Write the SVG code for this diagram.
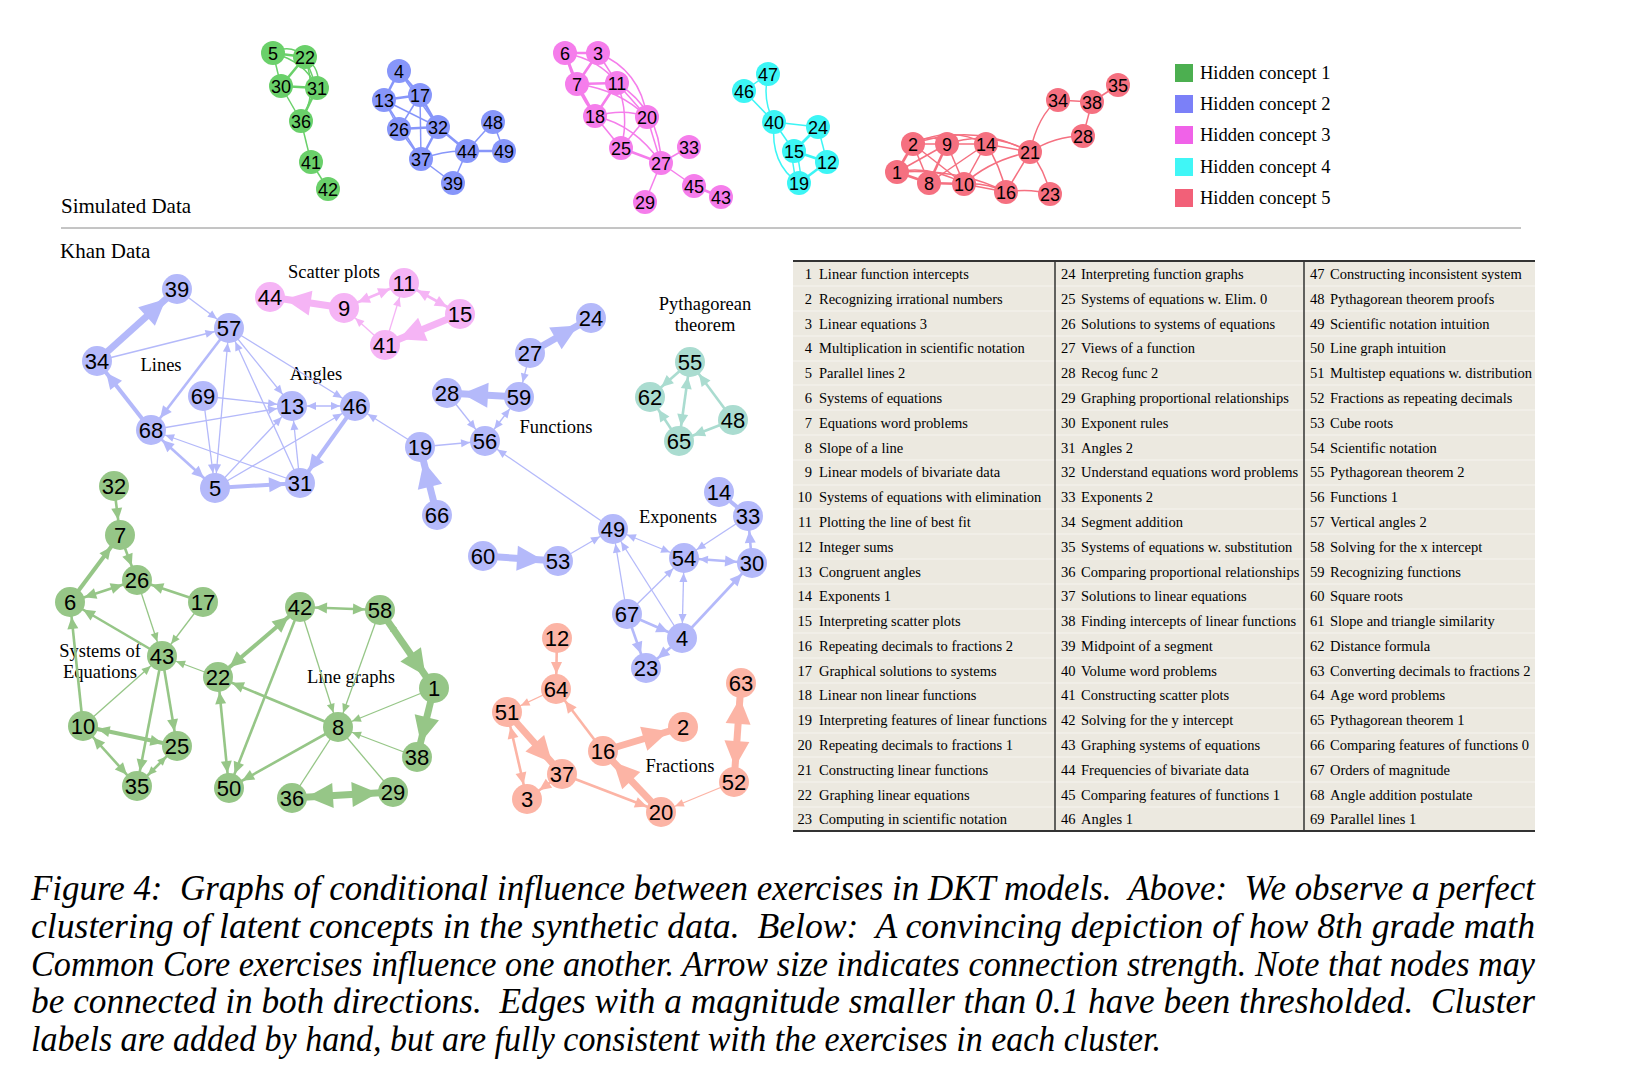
<svg xmlns="http://www.w3.org/2000/svg" width="1626" height="1081" viewBox="0 0 1626 1081">
<style>
.kb{fill:#b4b9fa}.kp{fill:#f5b4f5}.kt{fill:#aadcd0}.kg{fill:#96c687}.ks{fill:#fcb4a5}
.sg{fill:#6ad06a}.sb{fill:#8796fa}.sm{fill:#f57deb}.sc{fill:#3cf5f5}.sr{fill:#f57080}
.kn text{font-family:"Liberation Sans",Arial,sans-serif;font-size:22px;text-anchor:middle;fill:#000}
.sn text{font-family:"Liberation Sans",Arial,sans-serif;font-size:18px;text-anchor:middle;fill:#000}
.eb{stroke:#b4b9fa;fill:none}.ep{stroke:#f5b4f5;fill:none}.et{stroke:#aadcd0;fill:none}.eg{stroke:#96c687;fill:none}.es{stroke:#fcb4a5;fill:none}
.w1{stroke-width:1.3}.w2{stroke-width:2.6}.w3{stroke-width:4}.w4{stroke-width:7}
.xg{stroke:#6ad06a}.xb{stroke:#8796fa}.xm{stroke:#f57deb}.xc{stroke:#3cf5f5}.xr{stroke:#f57080}
.sim path,.sim line{fill:none;stroke-width:1.5}
.sim .t{stroke-width:2.6}
.lbl{font-family:"Liberation Serif","Times New Roman",serif;font-size:18.5px;fill:#000}
.ttl{font-family:"Liberation Serif","Times New Roman",serif;font-size:21px;fill:#000}
.tb{font-family:"Liberation Serif","Times New Roman",serif;font-size:14.5px;fill:#000}
.cap{font-family:"Liberation Serif","Times New Roman",serif;font-style:italic;font-size:35px;fill:#000}
</style>
<defs>
<marker id="mb1" markerUnits="userSpaceOnUse" orient="auto-start-reverse" overflow="visible" refX="24" refY="0" markerWidth="1" markerHeight="1"><path d="M0,-4L9,0L0,4z" fill="#b4b9fa"/></marker>
<marker id="mb2" markerUnits="userSpaceOnUse" orient="auto-start-reverse" overflow="visible" refX="27" refY="0" markerWidth="1" markerHeight="1"><path d="M0,-5.5L12,0L0,5.5z" fill="#b4b9fa"/></marker>
<marker id="mb3" markerUnits="userSpaceOnUse" orient="auto-start-reverse" overflow="visible" refX="31" refY="0" markerWidth="1" markerHeight="1"><path d="M0,-7.5L16,0L0,7.5z" fill="#b4b9fa"/></marker>
<marker id="mb4" markerUnits="userSpaceOnUse" orient="auto-start-reverse" overflow="visible" refX="41" refY="0" markerWidth="1" markerHeight="1"><path d="M0,-12.5L26,0L0,12.5z" fill="#b4b9fa"/></marker>
<marker id="mp1" markerUnits="userSpaceOnUse" orient="auto-start-reverse" overflow="visible" refX="24" refY="0" markerWidth="1" markerHeight="1"><path d="M0,-4L9,0L0,4z" fill="#f5b4f5"/></marker>
<marker id="mp2" markerUnits="userSpaceOnUse" orient="auto-start-reverse" overflow="visible" refX="27" refY="0" markerWidth="1" markerHeight="1"><path d="M0,-5.5L12,0L0,5.5z" fill="#f5b4f5"/></marker>
<marker id="mp4" markerUnits="userSpaceOnUse" orient="auto-start-reverse" overflow="visible" refX="41" refY="0" markerWidth="1" markerHeight="1"><path d="M0,-12.5L26,0L0,12.5z" fill="#f5b4f5"/></marker>
<marker id="mt2" markerUnits="userSpaceOnUse" orient="auto-start-reverse" overflow="visible" refX="27" refY="0" markerWidth="1" markerHeight="1"><path d="M0,-5.5L12,0L0,5.5z" fill="#aadcd0"/></marker>
<marker id="mg1" markerUnits="userSpaceOnUse" orient="auto-start-reverse" overflow="visible" refX="24" refY="0" markerWidth="1" markerHeight="1"><path d="M0,-4L9,0L0,4z" fill="#96c687"/></marker>
<marker id="mg2" markerUnits="userSpaceOnUse" orient="auto-start-reverse" overflow="visible" refX="27" refY="0" markerWidth="1" markerHeight="1"><path d="M0,-5.5L12,0L0,5.5z" fill="#96c687"/></marker>
<marker id="mg3" markerUnits="userSpaceOnUse" orient="auto-start-reverse" overflow="visible" refX="31" refY="0" markerWidth="1" markerHeight="1"><path d="M0,-7.5L16,0L0,7.5z" fill="#96c687"/></marker>
<marker id="mg4" markerUnits="userSpaceOnUse" orient="auto-start-reverse" overflow="visible" refX="41" refY="0" markerWidth="1" markerHeight="1"><path d="M0,-12.5L26,0L0,12.5z" fill="#96c687"/></marker>
<marker id="ms1" markerUnits="userSpaceOnUse" orient="auto-start-reverse" overflow="visible" refX="24" refY="0" markerWidth="1" markerHeight="1"><path d="M0,-4L9,0L0,4z" fill="#fcb4a5"/></marker>
<marker id="ms2" markerUnits="userSpaceOnUse" orient="auto-start-reverse" overflow="visible" refX="27" refY="0" markerWidth="1" markerHeight="1"><path d="M0,-5.5L12,0L0,5.5z" fill="#fcb4a5"/></marker>
<marker id="ms4" markerUnits="userSpaceOnUse" orient="auto-start-reverse" overflow="visible" refX="41" refY="0" markerWidth="1" markerHeight="1"><path d="M0,-12.5L26,0L0,12.5z" fill="#fcb4a5"/></marker>
</defs>
<rect width="1626" height="1081" fill="#fff"/>

<!-- Simulated data edges -->
<g id="sim-edges" class="sim">
<g class="xg">
<line x1="273" y1="53" x2="305" y2="57" class="t"/><path d="M273,53 Q290,43 305,57"/>
<line x1="273" y1="53" x2="281" y2="86"/><path d="M273,53 Q306,62 317,88"/>
<line x1="305" y1="57" x2="281" y2="86" class="t"/><line x1="305" y1="57" x2="317" y2="88"/><path d="M305,57 Q322,70 317,88"/>
<line x1="281" y1="86" x2="317" y2="88" class="t"/><line x1="281" y1="86" x2="301" y2="121"/>
<line x1="317" y1="88" x2="301" y2="121" class="t"/><path d="M305,57 Q318,95 301,121"/>
<line x1="301" y1="121" x2="311" y2="162"/><line x1="311" y1="162" x2="328" y2="189"/>
</g>
<g class="xb">
<line x1="399" y1="71" x2="384" y2="100" class="t"/><line x1="399" y1="71" x2="420" y2="95" class="t"/><line x1="399" y1="71" x2="438" y2="127"/>
<line x1="384" y1="100" x2="420" y2="95" class="t"/><line x1="384" y1="100" x2="399" y2="129"/><line x1="384" y1="100" x2="438" y2="127"/><line x1="384" y1="100" x2="421" y2="159"/>
<line x1="420" y1="95" x2="399" y2="129"/><line x1="420" y1="95" x2="438" y2="127" class="t"/><line x1="420" y1="95" x2="421" y2="159"/>
<line x1="399" y1="129" x2="438" y2="127" class="t"/><line x1="399" y1="129" x2="421" y2="159"/><line x1="438" y1="127" x2="421" y2="159" class="t"/>
<line x1="438" y1="127" x2="467" y2="151" class="t"/><path d="M421,159 Q445,150 467,151"/><line x1="421" y1="159" x2="453" y2="183"/><line x1="453" y1="183" x2="467" y2="151"/>
<line x1="467" y1="151" x2="493" y2="122"/><line x1="467" y1="151" x2="504" y2="151" class="t"/><line x1="493" y1="122" x2="504" y2="151"/>
</g>
<g class="xm">
<line x1="565" y1="53" x2="598" y2="53" class="t"/><line x1="565" y1="53" x2="577" y2="84" class="t"/><line x1="598" y1="53" x2="577" y2="84" class="t"/>
<line x1="598" y1="53" x2="617" y2="83"/><path d="M565,53 Q600,60 617,83"/><line x1="577" y1="84" x2="617" y2="83" class="t"/>
<line x1="577" y1="84" x2="595" y2="116" class="t"/><path d="M565,53 Q575,90 595,116"/><line x1="617" y1="83" x2="595" y2="116" class="t"/>
<path d="M598,53 Q640,70 647,117"/><line x1="617" y1="83" x2="647" y2="117"/><path d="M595,116 Q625,108 647,117"/><path d="M577,84 Q620,90 647,117"/>
<line x1="595" y1="116" x2="621" y2="148"/><path d="M617,83 Q630,115 621,148"/><path d="M595,116 Q635,125 661,163"/><path d="M617,83 Q660,110 661,163"/>
<line x1="647" y1="117" x2="621" y2="148"/><line x1="647" y1="117" x2="661" y2="163"/><line x1="621" y1="148" x2="661" y2="163" class="t"/>
<line x1="661" y1="163" x2="689" y2="147"/><line x1="661" y1="163" x2="694" y2="186"/><line x1="661" y1="163" x2="645" y2="202"/><line x1="694" y1="186" x2="721" y2="197" class="t"/>
</g>
<g class="xc">
<line x1="768" y1="74" x2="744" y2="91"/><path d="M768,74 Q762,100 774,122"/><line x1="744" y1="91" x2="774" y2="122"/>
<line x1="774" y1="122" x2="818" y2="127"/><line x1="774" y1="122" x2="794" y2="151"/><path d="M774,122 Q770,165 799,183"/>
<line x1="794" y1="151" x2="818" y2="127" class="t"/><line x1="794" y1="151" x2="827" y2="162" class="t"/><line x1="791" y1="151" x2="796" y2="183"/><line x1="797" y1="151" x2="802" y2="183"/>
<line x1="818" y1="127" x2="827" y2="162"/><line x1="827" y1="162" x2="799" y2="183" class="t"/>
</g>
<g class="xr">
<line x1="897" y1="172" x2="913" y2="144" class="t"/><line x1="897" y1="172" x2="929" y2="183" class="t"/>
<line x1="913" y1="144" x2="947" y2="144"/><path d="M913,144 Q930,132 947,144"/><path d="M913,144 Q950,125 986,144"/><path d="M913,144 Q975,122 1030,152"/>
<line x1="947" y1="144" x2="986" y2="144"/><path d="M947,144 Q990,130 1030,152"/><line x1="986" y1="144" x2="1030" y2="152"/>
<line x1="897" y1="172" x2="947" y2="144"/><line x1="913" y1="144" x2="929" y2="183"/><line x1="913" y1="144" x2="964" y2="184"/>
<line x1="947" y1="144" x2="929" y2="183" class="t"/><line x1="947" y1="144" x2="964" y2="184"/><line x1="986" y1="144" x2="929" y2="183"/><line x1="986" y1="144" x2="964" y2="184"/>
<path d="M986,144 Q1000,165 1006,192"/><path d="M1030,152 Q990,160 964,184"/><line x1="1030" y1="152" x2="1006" y2="192"/><path d="M1030,152 Q1045,170 1050,194"/>
<line x1="929" y1="183" x2="964" y2="184" class="t"/><path d="M897,172 Q930,165 964,184"/><path d="M897,172 Q960,168 1006,192"/>
<line x1="964" y1="184" x2="1006" y2="192"/><path d="M964,184 Q985,182 1006,192"/><path d="M1006,192 Q1030,188 1050,194"/>
<path d="M1030,152 Q1055,136 1083,136"/><path d="M1030,152 Q1038,115 1058,100"/>
<line x1="1083" y1="136" x2="1092" y2="102"/><line x1="1058" y1="100" x2="1092" y2="102"/><line x1="1092" y1="102" x2="1118" y2="85"/>
</g>
</g>

<!-- Simulated data nodes -->
<g class="sn">
<g id="s-g5"><circle class="sg" cx="273" cy="53" r="12"/><text x="273" y="59.5">5</text></g>
<g id="s-g22"><circle class="sg" cx="305" cy="57" r="12"/><text x="305" y="63.5">22</text></g>
<g id="s-g30"><circle class="sg" cx="281" cy="86" r="12"/><text x="281" y="92.5">30</text></g>
<g id="s-g31"><circle class="sg" cx="317" cy="88" r="12"/><text x="317" y="94.5">31</text></g>
<g id="s-g36"><circle class="sg" cx="301" cy="121" r="12"/><text x="301" y="127.5">36</text></g>
<g id="s-g41"><circle class="sg" cx="311" cy="162" r="12"/><text x="311" y="168.5">41</text></g>
<g id="s-g42"><circle class="sg" cx="328" cy="189" r="12"/><text x="328" y="195.5">42</text></g>
<g id="s-b4"><circle class="sb" cx="399" cy="71" r="12"/><text x="399" y="77.5">4</text></g>
<g id="s-b13"><circle class="sb" cx="384" cy="100" r="12"/><text x="384" y="106.5">13</text></g>
<g id="s-b17"><circle class="sb" cx="420" cy="95" r="12"/><text x="420" y="101.5">17</text></g>
<g id="s-b26"><circle class="sb" cx="399" cy="129" r="12"/><text x="399" y="135.5">26</text></g>
<g id="s-b32"><circle class="sb" cx="438" cy="127" r="12"/><text x="438" y="133.5">32</text></g>
<g id="s-b37"><circle class="sb" cx="421" cy="159" r="12"/><text x="421" y="165.5">37</text></g>
<g id="s-b44"><circle class="sb" cx="467" cy="151" r="12"/><text x="467" y="157.5">44</text></g>
<g id="s-b48"><circle class="sb" cx="493" cy="122" r="12"/><text x="493" y="128.5">48</text></g>
<g id="s-b49"><circle class="sb" cx="504" cy="151" r="12"/><text x="504" y="157.5">49</text></g>
<g id="s-b39"><circle class="sb" cx="453" cy="183" r="12"/><text x="453" y="189.5">39</text></g>
<g id="s-m6"><circle class="sm" cx="565" cy="53" r="12"/><text x="565" y="59.5">6</text></g>
<g id="s-m3"><circle class="sm" cx="598" cy="53" r="12"/><text x="598" y="59.5">3</text></g>
<g id="s-m7"><circle class="sm" cx="577" cy="84" r="12"/><text x="577" y="90.5">7</text></g>
<g id="s-m11"><circle class="sm" cx="617" cy="83" r="12"/><text x="617" y="89.5">11</text></g>
<g id="s-m18"><circle class="sm" cx="595" cy="116" r="12"/><text x="595" y="122.5">18</text></g>
<g id="s-m20"><circle class="sm" cx="647" cy="117" r="12"/><text x="647" y="123.5">20</text></g>
<g id="s-m25"><circle class="sm" cx="621" cy="148" r="12"/><text x="621" y="154.5">25</text></g>
<g id="s-m27"><circle class="sm" cx="661" cy="163" r="12"/><text x="661" y="169.5">27</text></g>
<g id="s-m33"><circle class="sm" cx="689" cy="147" r="12"/><text x="689" y="153.5">33</text></g>
<g id="s-m45"><circle class="sm" cx="694" cy="186" r="12"/><text x="694" y="192.5">45</text></g>
<g id="s-m43"><circle class="sm" cx="721" cy="197" r="12"/><text x="721" y="203.5">43</text></g>
<g id="s-m29"><circle class="sm" cx="645" cy="202" r="12"/><text x="645" y="208.5">29</text></g>
<g id="s-c47"><circle class="sc" cx="768" cy="74" r="12"/><text x="768" y="80.5">47</text></g>
<g id="s-c46"><circle class="sc" cx="744" cy="91" r="12"/><text x="744" y="97.5">46</text></g>
<g id="s-c40"><circle class="sc" cx="774" cy="122" r="12"/><text x="774" y="128.5">40</text></g>
<g id="s-c24"><circle class="sc" cx="818" cy="127" r="12"/><text x="818" y="133.5">24</text></g>
<g id="s-c15"><circle class="sc" cx="794" cy="151" r="12"/><text x="794" y="157.5">15</text></g>
<g id="s-c12"><circle class="sc" cx="827" cy="162" r="12"/><text x="827" y="168.5">12</text></g>
<g id="s-c19"><circle class="sc" cx="799" cy="183" r="12"/><text x="799" y="189.5">19</text></g>
<g id="s-r2"><circle class="sr" cx="913" cy="144" r="12"/><text x="913" y="150.5">2</text></g>
<g id="s-r9"><circle class="sr" cx="947" cy="144" r="12"/><text x="947" y="150.5">9</text></g>
<g id="s-r14"><circle class="sr" cx="986" cy="144" r="12"/><text x="986" y="150.5">14</text></g>
<g id="s-r21"><circle class="sr" cx="1030" cy="152" r="12"/><text x="1030" y="158.5">21</text></g>
<g id="s-r1"><circle class="sr" cx="897" cy="172" r="12"/><text x="897" y="178.5">1</text></g>
<g id="s-r8"><circle class="sr" cx="929" cy="183" r="12"/><text x="929" y="189.5">8</text></g>
<g id="s-r10"><circle class="sr" cx="964" cy="184" r="12"/><text x="964" y="190.5">10</text></g>
<g id="s-r16"><circle class="sr" cx="1006" cy="192" r="12"/><text x="1006" y="198.5">16</text></g>
<g id="s-r23"><circle class="sr" cx="1050" cy="194" r="12"/><text x="1050" y="200.5">23</text></g>
<g id="s-r28"><circle class="sr" cx="1083" cy="136" r="12"/><text x="1083" y="142.5">28</text></g>
<g id="s-r34"><circle class="sr" cx="1058" cy="100" r="12"/><text x="1058" y="106.5">34</text></g>
<g id="s-r38"><circle class="sr" cx="1092" cy="102" r="12"/><text x="1092" y="108.5">38</text></g>
<g id="s-r35"><circle class="sr" cx="1118" cy="85" r="12"/><text x="1118" y="91.5">35</text></g>
</g>

<!-- Legend -->
<g id="legend">
<rect x="1175" y="64" width="18" height="18" fill="#4caf50"/><text class="lbl" x="1200" y="79">Hidden concept 1</text>
<rect x="1175" y="95" width="18" height="18" fill="#7b80f8"/><text class="lbl" x="1200" y="110">Hidden concept 2</text>
<rect x="1175" y="126" width="18" height="18" fill="#f062e8"/><text class="lbl" x="1200" y="141">Hidden concept 3</text>
<rect x="1175" y="158" width="18" height="18" fill="#40f6f6"/><text class="lbl" x="1200" y="173">Hidden concept 4</text>
<rect x="1175" y="189" width="18" height="18" fill="#f26078"/><text class="lbl" x="1200" y="204">Hidden concept 5</text>
</g>

<text class="ttl" x="61" y="213">Simulated Data</text>
<line x1="61" y1="228" x2="1521" y2="228" stroke="#8a8a8a" stroke-width="1"/>
<text class="ttl" x="60" y="258">Khan Data</text>

<!-- Cluster labels -->
<g class="lbl" text-anchor="middle">
<text x="334" y="278">Scatter plots</text>
<text x="161" y="371">Lines</text>
<text x="316" y="380">Angles</text>
<text x="556" y="433">Functions</text>
<text x="705" y="310">Pythagorean</text>
<text x="705" y="331">theorem</text>
<text x="678" y="523">Exponents</text>
<text x="100" y="657">Systems of</text>
<text x="100" y="678">Equations</text>
<text x="351" y="683">Line graphs</text>
<text x="680" y="772">Fractions</text>
</g>

<!-- Khan connectors -->
<g id="connectors">
<line class="eb w4" x1="97" y1="361" x2="177" y2="289" marker-end="url(#mb4)"/>
<line class="eb w1" x1="177" y1="289" x2="229" y2="328" marker-end="url(#mb1)"/>
<line class="eb w1" x1="97" y1="361" x2="229" y2="328" marker-end="url(#mb1)"/>
<line class="eb w2" x1="229" y1="328" x2="151" y2="430" marker-end="url(#mb2)"/>
<line class="eb w3" x1="151" y1="430" x2="97" y2="361" marker-end="url(#mb3)"/>
<line class="eb w1" x1="229" y1="328" x2="215" y2="488" marker-start="url(#mb1)" marker-end="url(#mb1)"/>
<line class="eb w1" x1="229" y1="328" x2="292" y2="406" marker-end="url(#mb1)"/>
<line class="eb w1" x1="229" y1="328" x2="355" y2="406" marker-end="url(#mb1)"/>
<line class="eb w1" x1="300" y1="483" x2="229" y2="328" marker-end="url(#mb1)"/>
<line class="eb w1" x1="203" y1="396" x2="292" y2="406" marker-end="url(#mb1)"/>
<line class="eb w1" x1="203" y1="396" x2="215" y2="488" marker-end="url(#mb1)"/>
<line class="eb w1" x1="151" y1="430" x2="292" y2="406" marker-end="url(#mb1)"/>
<line class="eb w2" x1="151" y1="430" x2="215" y2="488" marker-start="url(#mb2)" marker-end="url(#mb2)"/>
<line class="eb w1" x1="300" y1="483" x2="151" y2="430" marker-end="url(#mb1)"/>
<line class="eb w1" x1="215" y1="488" x2="292" y2="406" marker-end="url(#mb1)"/>
<line class="eb w1" x1="215" y1="488" x2="355" y2="406" marker-end="url(#mb1)"/>
<line class="eb w1" x1="292" y1="406" x2="355" y2="406" marker-start="url(#mb1)" marker-end="url(#mb1)"/>
<line class="eb w1" x1="300" y1="483" x2="292" y2="406" marker-end="url(#mb1)"/>
<line class="eb w3" x1="355" y1="406" x2="300" y2="483" marker-end="url(#mb3)"/>
<line class="eb w3" x1="215" y1="488" x2="300" y2="483" marker-end="url(#mb3)"/>
<line class="eb w1" x1="420" y1="447" x2="355" y2="406" marker-end="url(#mb1)"/>
<line class="eb w4" x1="437" y1="515" x2="420" y2="447" marker-end="url(#mb4)"/>
<line class="eb w1" x1="420" y1="447" x2="485" y2="441" marker-end="url(#mb1)"/>
<line class="eb w1" x1="447" y1="393" x2="485" y2="441" marker-end="url(#mb1)"/>
<line class="eb w1" x1="485" y1="441" x2="519" y2="397" marker-start="url(#mb1)" marker-end="url(#mb1)"/>
<line class="eb w4" x1="519" y1="397" x2="447" y2="393" marker-end="url(#mb4)"/>
<line class="eb w1" x1="530" y1="353" x2="519" y2="397" marker-end="url(#mb1)"/>
<line class="eb w4" x1="530" y1="353" x2="591" y2="318" marker-end="url(#mb4)"/>
<line class="eb w1" x1="613" y1="529" x2="485" y2="441" marker-end="url(#mb1)"/>
<line class="eb w1" x1="558" y1="561" x2="613" y2="529" marker-end="url(#mb1)"/>
<line class="eb w4" x1="483" y1="556" x2="558" y2="561" marker-end="url(#mb4)"/>
<line class="eb w1" x1="613" y1="529" x2="684" y2="558" marker-start="url(#mb1)" marker-end="url(#mb1)"/>
<line class="eb w2" x1="684" y1="558" x2="752" y2="563" marker-start="url(#mb1)" marker-end="url(#mb2)"/>
<line class="eb w1" x1="748" y1="516" x2="684" y2="558" marker-end="url(#mb1)"/>
<line class="eb w3" x1="719" y1="492" x2="748" y2="516"/>
<line class="eb w2" x1="752" y1="563" x2="748" y2="516" marker-end="url(#mb2)"/>
<line class="eb w1" x1="627" y1="614" x2="613" y2="529" marker-end="url(#mb1)"/>
<line class="eb w1" x1="682" y1="638" x2="613" y2="529" marker-end="url(#mb1)"/>
<line class="eb w1" x1="627" y1="614" x2="684" y2="558" marker-end="url(#mb1)"/>
<line class="eb w1" x1="684" y1="558" x2="682" y2="638" marker-start="url(#mb1)" marker-end="url(#mb1)"/>
<line class="eb w2" x1="682" y1="638" x2="752" y2="563" marker-end="url(#mb2)"/>
<line class="eb w2" x1="627" y1="614" x2="682" y2="638" marker-end="url(#mb2)"/>
<line class="eb w2" x1="627" y1="614" x2="646" y2="668" marker-end="url(#mb2)"/>
<line class="eb w2" x1="682" y1="638" x2="646" y2="668" marker-end="url(#mb2)"/>

<line class="ep w4" x1="344" y1="308" x2="270" y2="297" marker-end="url(#mp4)"/>
<line class="ep w2" x1="344" y1="308" x2="404" y2="283" marker-start="url(#mp2)" marker-end="url(#mp2)"/>
<line class="ep w1" x1="385" y1="345" x2="344" y2="308" marker-end="url(#mp1)"/>
<line class="ep w1" x1="385" y1="345" x2="404" y2="283" marker-end="url(#mp1)"/>
<line class="ep w2" x1="404" y1="283" x2="460" y2="314" marker-start="url(#mp2)" marker-end="url(#mp2)"/>
<line class="ep w4" x1="460" y1="314" x2="385" y2="345" marker-end="url(#mp4)"/>

<line class="et w2" x1="690" y1="362" x2="650" y2="397" marker-end="url(#mt2)"/>
<line class="et w2" x1="679" y1="441" x2="650" y2="397" marker-end="url(#mt2)"/>
<line class="et w2" x1="690" y1="362" x2="679" y2="441" marker-start="url(#mt2)" marker-end="url(#mt2)"/>
<line class="et w2" x1="733" y1="420" x2="690" y2="362" marker-end="url(#mt2)"/>
<line class="et w2" x1="733" y1="420" x2="679" y2="441" marker-end="url(#mt2)"/>

<line class="eg w2" x1="114" y1="486" x2="120" y2="535" marker-end="url(#mg2)"/>
<line class="eg w2" x1="120" y1="535" x2="137" y2="580" marker-end="url(#mg2)"/>
<line class="eg w3" x1="70" y1="602" x2="120" y2="535" marker-end="url(#mg2)"/>
<line class="eg w2" x1="70" y1="602" x2="137" y2="580" marker-start="url(#mg2)" marker-end="url(#mg2)"/>
<line class="eg w2" x1="203" y1="602" x2="137" y2="580" marker-end="url(#mg2)"/>
<line class="eg w2" x1="162" y1="656" x2="70" y2="602" marker-end="url(#mg2)"/>
<line class="eg w1" x1="137" y1="580" x2="162" y2="656" marker-end="url(#mg1)"/>
<line class="eg w1" x1="203" y1="602" x2="162" y2="656" marker-end="url(#mg1)"/>
<line class="eg w2" x1="83" y1="726" x2="70" y2="602" marker-end="url(#mg2)"/>
<line class="eg w1" x1="83" y1="726" x2="162" y2="656" marker-end="url(#mg1)"/>
<line class="eg w1" x1="218" y1="677" x2="162" y2="656" marker-end="url(#mg1)"/>
<line class="eg w2" x1="162" y1="656" x2="177" y2="746" marker-end="url(#mg2)"/>
<line class="eg w2" x1="162" y1="656" x2="137" y2="786" marker-end="url(#mg2)"/>
<line class="eg w3" x1="83" y1="726" x2="177" y2="746" marker-start="url(#mg2)" marker-end="url(#mg2)"/>
<line class="eg w2" x1="83" y1="726" x2="137" y2="786" marker-start="url(#mg2)" marker-end="url(#mg2)"/>
<line class="eg w2" x1="137" y1="786" x2="177" y2="746" marker-start="url(#mg1)" marker-end="url(#mg1)"/>
<line class="eg w3" x1="300" y1="607" x2="218" y2="677" marker-start="url(#mg3)" marker-end="url(#mg3)"/>
<line class="eg w2" x1="300" y1="607" x2="380" y2="610" marker-start="url(#mg2)" marker-end="url(#mg2)"/>
<line class="eg w4" x1="380" y1="610" x2="434" y2="688" marker-start="url(#mg1)" marker-end="url(#mg4)"/>
<line class="eg w4" x1="434" y1="688" x2="417" y2="757" marker-end="url(#mg4)"/>
<line class="eg w2" x1="300" y1="607" x2="229" y2="788" marker-end="url(#mg2)"/>
<line class="eg w2" x1="218" y1="677" x2="229" y2="788" marker-start="url(#mg2)" marker-end="url(#mg2)"/>
<line class="eg w2" x1="338" y1="727" x2="218" y2="677" marker-end="url(#mg2)"/>
<line class="eg w2" x1="338" y1="727" x2="229" y2="788" marker-end="url(#mg2)"/>
<line class="eg w1" x1="300" y1="607" x2="338" y2="727" marker-end="url(#mg1)"/>
<line class="eg w1" x1="380" y1="610" x2="338" y2="727" marker-end="url(#mg1)"/>
<line class="eg w1" x1="434" y1="688" x2="338" y2="727" marker-end="url(#mg1)"/>
<line class="eg w1" x1="417" y1="757" x2="338" y2="727" marker-end="url(#mg1)"/>
<line class="eg w1" x1="338" y1="727" x2="292" y2="798"/>
<line class="eg w1" x1="338" y1="727" x2="393" y2="792"/>
<line class="eg w4" x1="292" y1="798" x2="393" y2="792" marker-start="url(#mg4)" marker-end="url(#mg4)"/>

<line class="es w2" x1="557" y1="638" x2="556" y2="689" marker-end="url(#ms2)"/>
<line class="es w1" x1="556" y1="689" x2="507" y2="712" marker-end="url(#ms1)"/>
<line class="es w2" x1="603" y1="751" x2="556" y2="689" marker-end="url(#ms2)"/>
<line class="es w4" x1="603" y1="751" x2="683" y2="727" marker-end="url(#ms4)"/>
<line class="es w4" x1="507" y1="712" x2="562" y2="774" marker-end="url(#ms4)"/>
<line class="es w2" x1="507" y1="712" x2="527" y2="799" marker-start="url(#ms2)" marker-end="url(#ms2)"/>
<line class="es w2" x1="562" y1="774" x2="527" y2="799" marker-end="url(#ms2)"/>
<line class="es w2" x1="562" y1="774" x2="661" y2="812" marker-end="url(#ms2)"/>
<line class="es w4" x1="661" y1="812" x2="603" y2="751" marker-end="url(#ms4)"/>
<line class="es w1" x1="734" y1="782" x2="661" y2="812" marker-end="url(#ms1)"/>
<line class="es w4" x1="741" y1="683" x2="734" y2="782" marker-start="url(#ms4)" marker-end="url(#ms4)"/>
</g>

<!-- Khan nodes -->
<g class="kn">
<g id="n39"><circle class="kb" cx="177" cy="289" r="15"/><text x="177" y="297">39</text></g>
<g id="n57"><circle class="kb" cx="229" cy="328" r="15"/><text x="229" y="336">57</text></g>
<g id="n34"><circle class="kb" cx="97" cy="361" r="15"/><text x="97" y="369">34</text></g>
<g id="n69"><circle class="kb" cx="203" cy="396" r="15"/><text x="203" y="404">69</text></g>
<g id="n13"><circle class="kb" cx="292" cy="406" r="15"/><text x="292" y="414">13</text></g>
<g id="n46"><circle class="kb" cx="355" cy="406" r="15"/><text x="355" y="414">46</text></g>
<g id="n68"><circle class="kb" cx="151" cy="430" r="15"/><text x="151" y="438">68</text></g>
<g id="n5"><circle class="kb" cx="215" cy="488" r="15"/><text x="215" y="496">5</text></g>
<g id="n31"><circle class="kb" cx="300" cy="483" r="15"/><text x="300" y="491">31</text></g>
<g id="n19"><circle class="kb" cx="420" cy="447" r="15"/><text x="420" y="455">19</text></g>
<g id="n66"><circle class="kb" cx="437" cy="515" r="15"/><text x="437" y="523">66</text></g>
<g id="n28"><circle class="kb" cx="447" cy="393" r="15"/><text x="447" y="401">28</text></g>
<g id="n59"><circle class="kb" cx="519" cy="397" r="15"/><text x="519" y="405">59</text></g>
<g id="n27"><circle class="kb" cx="530" cy="353" r="15"/><text x="530" y="361">27</text></g>
<g id="n24"><circle class="kb" cx="591" cy="318" r="15"/><text x="591" y="326">24</text></g>
<g id="n56"><circle class="kb" cx="485" cy="441" r="15"/><text x="485" y="449">56</text></g>
<g id="n49"><circle class="kb" cx="613" cy="529" r="15"/><text x="613" y="537">49</text></g>
<g id="n53"><circle class="kb" cx="558" cy="561" r="15"/><text x="558" y="569">53</text></g>
<g id="n60"><circle class="kb" cx="483" cy="556" r="15"/><text x="483" y="564">60</text></g>
<g id="n54"><circle class="kb" cx="684" cy="558" r="15"/><text x="684" y="566">54</text></g>
<g id="n14"><circle class="kb" cx="719" cy="492" r="15"/><text x="719" y="500">14</text></g>
<g id="n33"><circle class="kb" cx="748" cy="516" r="15"/><text x="748" y="524">33</text></g>
<g id="n30"><circle class="kb" cx="752" cy="563" r="15"/><text x="752" y="571">30</text></g>
<g id="n67"><circle class="kb" cx="627" cy="614" r="15"/><text x="627" y="622">67</text></g>
<g id="n4"><circle class="kb" cx="682" cy="638" r="15"/><text x="682" y="646">4</text></g>
<g id="n23"><circle class="kb" cx="646" cy="668" r="15"/><text x="646" y="676">23</text></g>
<g id="n44"><circle class="kp" cx="270" cy="297" r="15"/><text x="270" y="305">44</text></g>
<g id="n9"><circle class="kp" cx="344" cy="308" r="15"/><text x="344" y="316">9</text></g>
<g id="n11"><circle class="kp" cx="404" cy="283" r="15"/><text x="404" y="291">11</text></g>
<g id="n15"><circle class="kp" cx="460" cy="314" r="15"/><text x="460" y="322">15</text></g>
<g id="n41"><circle class="kp" cx="385" cy="345" r="15"/><text x="385" y="353">41</text></g>
<g id="n55"><circle class="kt" cx="690" cy="362" r="15"/><text x="690" y="370">55</text></g>
<g id="n62"><circle class="kt" cx="650" cy="397" r="15"/><text x="650" y="405">62</text></g>
<g id="n48"><circle class="kt" cx="733" cy="420" r="15"/><text x="733" y="428">48</text></g>
<g id="n65"><circle class="kt" cx="679" cy="441" r="15"/><text x="679" y="449">65</text></g>
<g id="n32"><circle class="kg" cx="114" cy="486" r="15"/><text x="114" y="494">32</text></g>
<g id="n7"><circle class="kg" cx="120" cy="535" r="15"/><text x="120" y="543">7</text></g>
<g id="n26"><circle class="kg" cx="137" cy="580" r="15"/><text x="137" y="588">26</text></g>
<g id="n17"><circle class="kg" cx="203" cy="602" r="15"/><text x="203" y="610">17</text></g>
<g id="n6"><circle class="kg" cx="70" cy="602" r="15"/><text x="70" y="610">6</text></g>
<g id="n43"><circle class="kg" cx="162" cy="656" r="15"/><text x="162" y="664">43</text></g>
<g id="n22"><circle class="kg" cx="218" cy="677" r="15"/><text x="218" y="685">22</text></g>
<g id="n42"><circle class="kg" cx="300" cy="607" r="15"/><text x="300" y="615">42</text></g>
<g id="n58"><circle class="kg" cx="380" cy="610" r="15"/><text x="380" y="618">58</text></g>
<g id="n1"><circle class="kg" cx="434" cy="688" r="15"/><text x="434" y="696">1</text></g>
<g id="n8"><circle class="kg" cx="338" cy="727" r="15"/><text x="338" y="735">8</text></g>
<g id="n38"><circle class="kg" cx="417" cy="757" r="15"/><text x="417" y="765">38</text></g>
<g id="n10"><circle class="kg" cx="83" cy="726" r="15"/><text x="83" y="734">10</text></g>
<g id="n25"><circle class="kg" cx="177" cy="746" r="15"/><text x="177" y="754">25</text></g>
<g id="n35"><circle class="kg" cx="137" cy="786" r="15"/><text x="137" y="794">35</text></g>
<g id="n50"><circle class="kg" cx="229" cy="788" r="15"/><text x="229" y="796">50</text></g>
<g id="n36"><circle class="kg" cx="292" cy="798" r="15"/><text x="292" y="806">36</text></g>
<g id="n29"><circle class="kg" cx="393" cy="792" r="15"/><text x="393" y="800">29</text></g>
<g id="n12"><circle class="ks" cx="557" cy="638" r="15"/><text x="557" y="646">12</text></g>
<g id="n64"><circle class="ks" cx="556" cy="689" r="15"/><text x="556" y="697">64</text></g>
<g id="n51"><circle class="ks" cx="507" cy="712" r="15"/><text x="507" y="720">51</text></g>
<g id="n16"><circle class="ks" cx="603" cy="751" r="15"/><text x="603" y="759">16</text></g>
<g id="n2"><circle class="ks" cx="683" cy="727" r="15"/><text x="683" y="735">2</text></g>
<g id="n37"><circle class="ks" cx="562" cy="774" r="15"/><text x="562" y="782">37</text></g>
<g id="n3"><circle class="ks" cx="527" cy="799" r="15"/><text x="527" y="807">3</text></g>
<g id="n20"><circle class="ks" cx="661" cy="812" r="15"/><text x="661" y="820">20</text></g>
<g id="n52"><circle class="ks" cx="734" cy="782" r="15"/><text x="734" y="790">52</text></g>
<g id="n63"><circle class="ks" cx="741" cy="683" r="15"/><text x="741" y="691">63</text></g>
</g>

<!-- Table -->
<g id="table">
<rect x="793" y="261" width="742" height="570" fill="#ece9e0"/>
<g stroke="#f6f4ef" stroke-width="1">
<line x1="793" y1="286" x2="1535" y2="286"/><line x1="793" y1="311" x2="1535" y2="311"/><line x1="793" y1="336" x2="1535" y2="336"/><line x1="793" y1="361" x2="1535" y2="361"/><line x1="793" y1="385" x2="1535" y2="385"/><line x1="793" y1="410" x2="1535" y2="410"/><line x1="793" y1="435" x2="1535" y2="435"/><line x1="793" y1="460" x2="1535" y2="460"/><line x1="793" y1="485" x2="1535" y2="485"/><line x1="793" y1="509" x2="1535" y2="509"/><line x1="793" y1="534" x2="1535" y2="534"/><line x1="793" y1="559" x2="1535" y2="559"/><line x1="793" y1="584" x2="1535" y2="584"/><line x1="793" y1="609" x2="1535" y2="609"/><line x1="793" y1="633" x2="1535" y2="633"/><line x1="793" y1="658" x2="1535" y2="658"/><line x1="793" y1="683" x2="1535" y2="683"/><line x1="793" y1="708" x2="1535" y2="708"/><line x1="793" y1="733" x2="1535" y2="733"/><line x1="793" y1="757" x2="1535" y2="757"/><line x1="793" y1="782" x2="1535" y2="782"/><line x1="793" y1="807" x2="1535" y2="807"/>
</g>
<line x1="793" y1="261" x2="1535" y2="261" stroke="#333" stroke-width="2"/>
<line x1="793" y1="831" x2="1535" y2="831" stroke="#333" stroke-width="2"/>
<line x1="1055" y1="261" x2="1055" y2="831" stroke="#333" stroke-width="1.5"/>
<line x1="1304" y1="261" x2="1304" y2="831" stroke="#333" stroke-width="1.5"/>
<g class="tb">
<text y="279"><tspan x="812" text-anchor="end">1</tspan><tspan x="819">Linear function intercepts</tspan><tspan x="1061">24</tspan><tspan x="1081">Interpreting function graphs</tspan><tspan x="1310">47</tspan><tspan x="1330">Constructing inconsistent system</tspan></text>
<text y="303.8"><tspan x="812" text-anchor="end">2</tspan><tspan x="819">Recognizing irrational numbers</tspan><tspan x="1061">25</tspan><tspan x="1081">Systems of equations w. Elim. 0</tspan><tspan x="1310">48</tspan><tspan x="1330">Pythagorean theorem proofs</tspan></text>
<text y="328.6"><tspan x="812" text-anchor="end">3</tspan><tspan x="819">Linear equations 3</tspan><tspan x="1061">26</tspan><tspan x="1081">Solutions to systems of equations</tspan><tspan x="1310">49</tspan><tspan x="1330">Scientific notation intuition</tspan></text>
<text y="353.4"><tspan x="812" text-anchor="end">4</tspan><tspan x="819">Multiplication in scientific notation</tspan><tspan x="1061">27</tspan><tspan x="1081">Views of a function</tspan><tspan x="1310">50</tspan><tspan x="1330">Line graph intuition</tspan></text>
<text y="378.2"><tspan x="812" text-anchor="end">5</tspan><tspan x="819">Parallel lines 2</tspan><tspan x="1061">28</tspan><tspan x="1081">Recog func 2</tspan><tspan x="1310">51</tspan><tspan x="1330">Multistep equations w. distribution</tspan></text>
<text y="403"><tspan x="812" text-anchor="end">6</tspan><tspan x="819">Systems of equations</tspan><tspan x="1061">29</tspan><tspan x="1081">Graphing proportional relationships</tspan><tspan x="1310">52</tspan><tspan x="1330">Fractions as repeating decimals</tspan></text>
<text y="427.7"><tspan x="812" text-anchor="end">7</tspan><tspan x="819">Equations word problems</tspan><tspan x="1061">30</tspan><tspan x="1081">Exponent rules</tspan><tspan x="1310">53</tspan><tspan x="1330">Cube roots</tspan></text>
<text y="452.5"><tspan x="812" text-anchor="end">8</tspan><tspan x="819">Slope of a line</tspan><tspan x="1061">31</tspan><tspan x="1081">Angles 2</tspan><tspan x="1310">54</tspan><tspan x="1330">Scientific notation</tspan></text>
<text y="477.3"><tspan x="812" text-anchor="end">9</tspan><tspan x="819">Linear models of bivariate data</tspan><tspan x="1061">32</tspan><tspan x="1081">Understand equations word problems</tspan><tspan x="1310">55</tspan><tspan x="1330">Pythagorean theorem 2</tspan></text>
<text y="502.1"><tspan x="812" text-anchor="end">10</tspan><tspan x="819">Systems of equations with elimination</tspan><tspan x="1061">33</tspan><tspan x="1081">Exponents 2</tspan><tspan x="1310">56</tspan><tspan x="1330">Functions 1</tspan></text>
<text y="526.9"><tspan x="812" text-anchor="end">11</tspan><tspan x="819">Plotting the line of best fit</tspan><tspan x="1061">34</tspan><tspan x="1081">Segment addition</tspan><tspan x="1310">57</tspan><tspan x="1330">Vertical angles 2</tspan></text>
<text y="551.7"><tspan x="812" text-anchor="end">12</tspan><tspan x="819">Integer sums</tspan><tspan x="1061">35</tspan><tspan x="1081">Systems of equations w. substitution</tspan><tspan x="1310">58</tspan><tspan x="1330">Solving for the x intercept</tspan></text>
<text y="576.5"><tspan x="812" text-anchor="end">13</tspan><tspan x="819">Congruent angles</tspan><tspan x="1061">36</tspan><tspan x="1081">Comparing proportional relationships</tspan><tspan x="1310">59</tspan><tspan x="1330">Recognizing functions</tspan></text>
<text y="601.3"><tspan x="812" text-anchor="end">14</tspan><tspan x="819">Exponents 1</tspan><tspan x="1061">37</tspan><tspan x="1081">Solutions to linear equations</tspan><tspan x="1310">60</tspan><tspan x="1330">Square roots</tspan></text>
<text y="626.1"><tspan x="812" text-anchor="end">15</tspan><tspan x="819">Interpreting scatter plots</tspan><tspan x="1061">38</tspan><tspan x="1081">Finding intercepts of linear functions</tspan><tspan x="1310">61</tspan><tspan x="1330">Slope and triangle similarity</tspan></text>
<text y="650.9"><tspan x="812" text-anchor="end">16</tspan><tspan x="819">Repeating decimals to fractions 2</tspan><tspan x="1061">39</tspan><tspan x="1081">Midpoint of a segment</tspan><tspan x="1310">62</tspan><tspan x="1330">Distance formula</tspan></text>
<text y="675.6"><tspan x="812" text-anchor="end">17</tspan><tspan x="819">Graphical solutions to systems</tspan><tspan x="1061">40</tspan><tspan x="1081">Volume word problems</tspan><tspan x="1310">63</tspan><tspan x="1330">Converting decimals to fractions 2</tspan></text>
<text y="700.4"><tspan x="812" text-anchor="end">18</tspan><tspan x="819">Linear non linear functions</tspan><tspan x="1061">41</tspan><tspan x="1081">Constructing scatter plots</tspan><tspan x="1310">64</tspan><tspan x="1330">Age word problems</tspan></text>
<text y="725.2"><tspan x="812" text-anchor="end">19</tspan><tspan x="819">Interpreting features of linear functions</tspan><tspan x="1061">42</tspan><tspan x="1081">Solving for the y intercept</tspan><tspan x="1310">65</tspan><tspan x="1330">Pythagorean theorem 1</tspan></text>
<text y="750"><tspan x="812" text-anchor="end">20</tspan><tspan x="819">Repeating decimals to fractions 1</tspan><tspan x="1061">43</tspan><tspan x="1081">Graphing systems of equations</tspan><tspan x="1310">66</tspan><tspan x="1330">Comparing features of functions 0</tspan></text>
<text y="774.8"><tspan x="812" text-anchor="end">21</tspan><tspan x="819">Constructing linear functions</tspan><tspan x="1061">44</tspan><tspan x="1081">Frequencies of bivariate data</tspan><tspan x="1310">67</tspan><tspan x="1330">Orders of magnitude</tspan></text>
<text y="799.6"><tspan x="812" text-anchor="end">22</tspan><tspan x="819">Graphing linear equations</tspan><tspan x="1061">45</tspan><tspan x="1081">Comparing features of functions 1</tspan><tspan x="1310">68</tspan><tspan x="1330">Angle addition postulate</tspan></text>
<text y="824.4"><tspan x="812" text-anchor="end">23</tspan><tspan x="819">Computing in scientific notation</tspan><tspan x="1061">46</tspan><tspan x="1081">Angles 1</tspan><tspan x="1310">69</tspan><tspan x="1330">Parallel lines 1</tspan></text>
</g>
</g>

<!-- Caption -->
<g id="caption" class="cap">
<text x="31" y="900" textLength="1504" lengthAdjust="spacingAndGlyphs" xml:space="preserve">Figure 4:  Graphs of conditional influence between exercises in DKT models.  Above:  We observe a perfect</text>
<text x="31" y="938" textLength="1504" lengthAdjust="spacingAndGlyphs" xml:space="preserve">clustering of latent concepts in the synthetic data.  Below:  A convincing depiction of how 8th grade math</text>
<text x="31" y="976" textLength="1504" lengthAdjust="spacingAndGlyphs">Common Core exercises influence one another. Arrow size indicates connection strength. Note that nodes may</text>
<text x="31" y="1013" textLength="1504" lengthAdjust="spacingAndGlyphs" xml:space="preserve">be connected in both directions.  Edges with a magnitude smaller than 0.1 have been thresholded.  Cluster</text>
<text x="31" y="1051" textLength="1130" lengthAdjust="spacingAndGlyphs">labels are added by hand, but are fully consistent with the exercises in each cluster.</text>
</g>
</svg>
